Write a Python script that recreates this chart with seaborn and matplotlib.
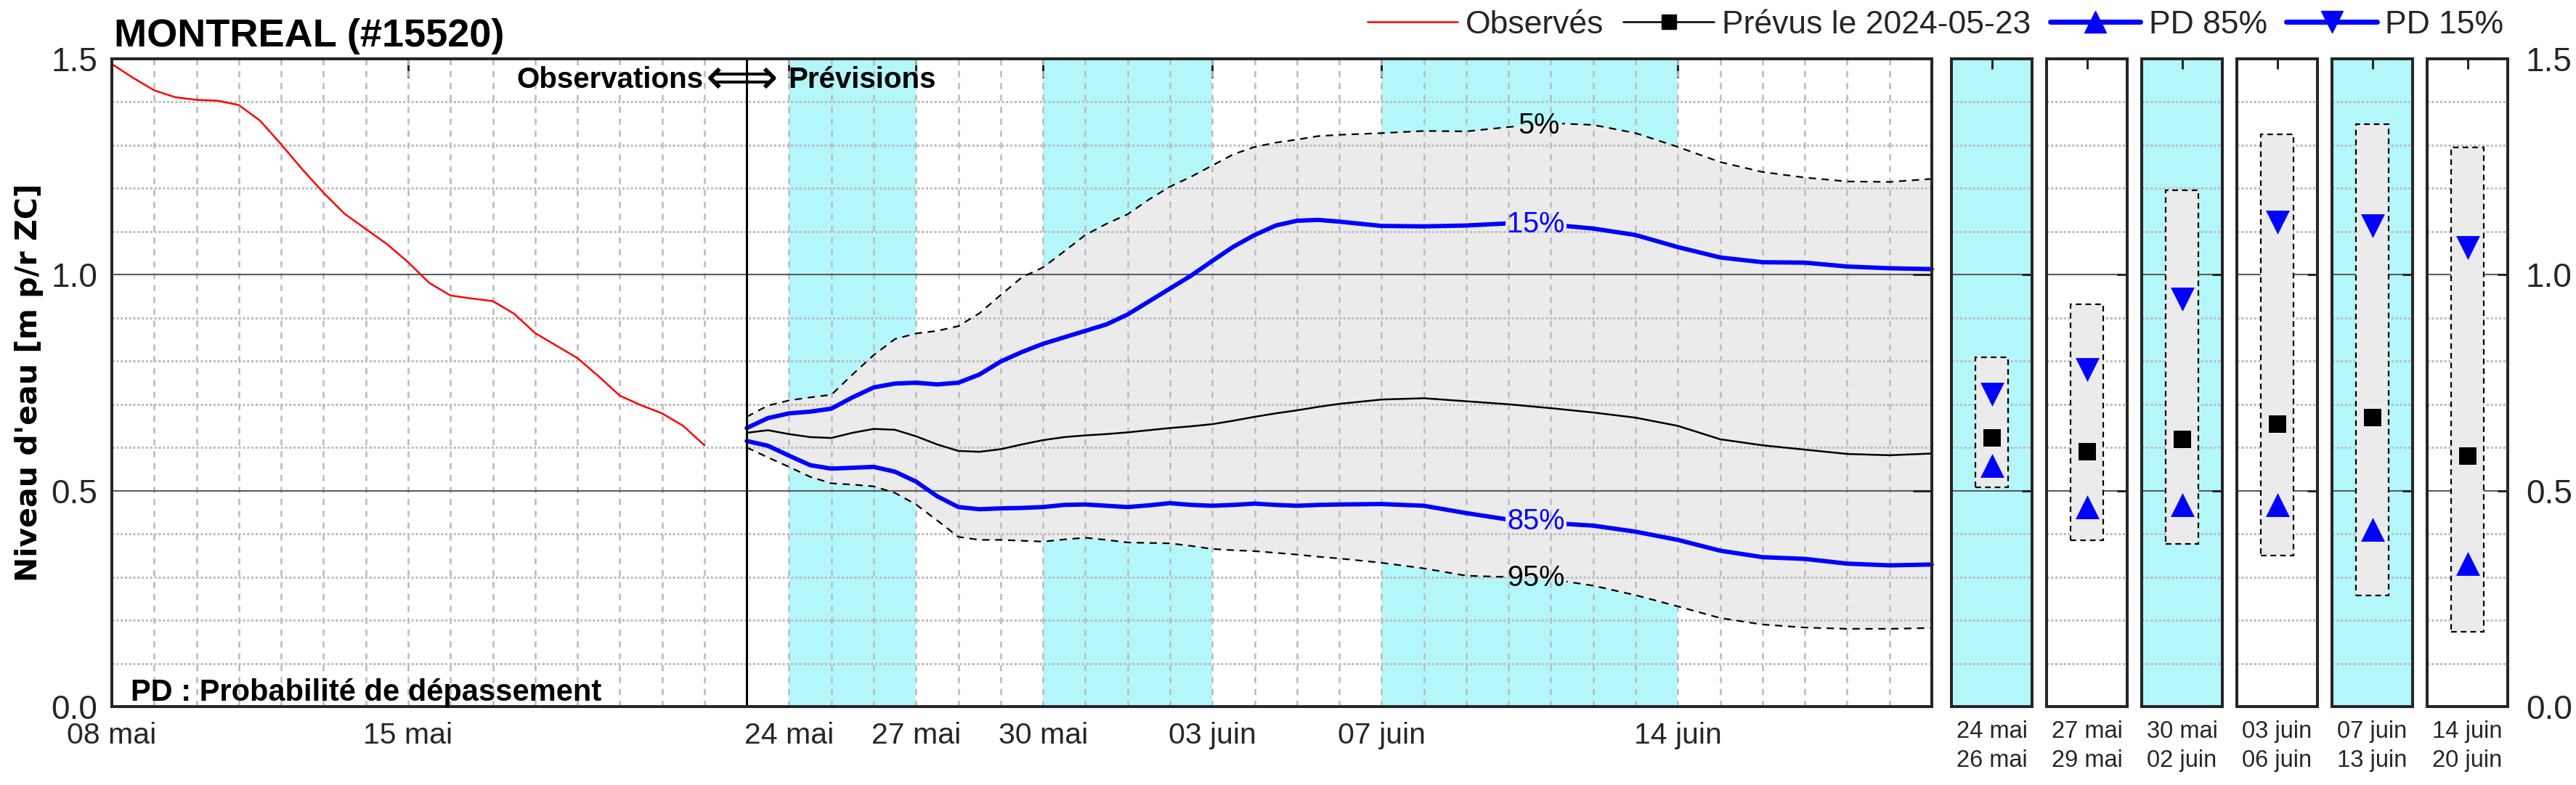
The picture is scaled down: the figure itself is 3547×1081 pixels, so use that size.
import numpy as np
import pandas as pd
import matplotlib
matplotlib.use("Agg")
import matplotlib.pyplot as plt
import matplotlib.dates as mdates
from matplotlib.lines import Line2D
from matplotlib.patches import Rectangle
from matplotlib.ticker import MultipleLocator, FixedLocator
import seaborn as sns

# ------------------------------------------------------------------ data
station_title = "MONTREAL (#15520)"
y_label = "Niveau d'eau [m p/r ZC]"

obs_start = "2024-05-08"          # observed series, one value every 12 h
obs_level = [1.488, 1.456, 1.427, 1.411, 1.405, 1.403, 1.393, 1.357, 1.302,
             1.244, 1.190, 1.141, 1.106, 1.071, 1.029, 0.981, 0.952, 0.945,
             0.939, 0.910, 0.865, 0.836, 0.807, 0.765, 0.720, 0.698, 0.679,
             0.650, 0.605]

forecast_issue = "2024-05-23"
fc_day = [0, 0.5, 1, 1.5, 2, 2.5, 3, 3.5, 4, 4.5, 5, 5.5, 6, 6.5, 7, 7.5, 8,
          8.5, 9, 9.5, 10, 10.5, 11, 11.5, 12, 12.5, 13, 13.5, 14,
          15, 16, 17, 18, 19, 20, 21, 22, 23, 24, 25, 26, 27, 28]
fc_q05 = [0.671, 0.697, 0.709, 0.716, 0.722, 0.769, 0.814, 0.851, 0.864, 0.870,
          0.881, 0.911, 0.953, 0.994, 1.017, 1.054, 1.092, 1.118, 1.140, 1.174,
          1.204, 1.227, 1.253, 1.279, 1.296, 1.306, 1.313, 1.321, 1.324,
          1.328, 1.333, 1.332, 1.342, 1.351, 1.347, 1.328, 1.296, 1.261, 1.238,
          1.225, 1.216, 1.215, 1.222]
fc_q15 = [0.645, 0.668, 0.679, 0.683, 0.690, 0.716, 0.739, 0.748, 0.750, 0.746,
          0.750, 0.769, 0.799, 0.821, 0.840, 0.855, 0.870, 0.885, 0.908, 0.938,
          0.968, 0.998, 1.032, 1.065, 1.092, 1.114, 1.125, 1.127, 1.123,
          1.113, 1.112, 1.114, 1.119, 1.116, 1.107, 1.092, 1.064, 1.040, 1.029,
          1.028, 1.019, 1.015, 1.013]
fc_q50 = [0.634, 0.640, 0.631, 0.624, 0.622, 0.634, 0.643, 0.641, 0.626, 0.607,
          0.592, 0.590, 0.596, 0.607, 0.617, 0.624, 0.628, 0.631, 0.635, 0.640,
          0.645, 0.649, 0.654, 0.662, 0.671, 0.679, 0.686, 0.694, 0.701,
          0.711, 0.714, 0.707, 0.700, 0.691, 0.681, 0.669, 0.650, 0.619, 0.605,
          0.595, 0.585, 0.582, 0.586]
fc_q85 = [0.615, 0.604, 0.581, 0.559, 0.551, 0.553, 0.555, 0.544, 0.521, 0.487,
          0.462, 0.457, 0.459, 0.460, 0.462, 0.467, 0.468, 0.465, 0.462, 0.466,
          0.471, 0.467, 0.465, 0.467, 0.470, 0.467, 0.465, 0.467, 0.468,
          0.469, 0.465, 0.448, 0.433, 0.425, 0.419, 0.405, 0.386, 0.361, 0.346,
          0.342, 0.331, 0.327, 0.329]
fc_q95 = [0.600, 0.577, 0.555, 0.532, 0.517, 0.514, 0.510, 0.495, 0.468, 0.431,
          0.393, 0.386, 0.386, 0.384, 0.382, 0.387, 0.391, 0.386, 0.380, 0.379,
          0.378, 0.372, 0.365, 0.362, 0.360, 0.356, 0.352, 0.347, 0.343,
          0.333, 0.320, 0.303, 0.300, 0.295, 0.280, 0.258, 0.232, 0.205, 0.190,
          0.183, 0.180, 0.180, 0.182]

# quantile curve labels: text, day after issue, level
curve_label_text = ["5%", "15%", "85%", "95%"]
curve_label_day = [18.72, 18.65, 18.65, 18.65]
curve_label_level = [1.345, 1.117, 0.428, 0.297]

band_start = ["2024-05-24", "2024-05-30", "2024-06-07"]
band_end = ["2024-05-27", "2024-06-03", "2024-06-14"]

x_start, x_end = "2024-05-08", "2024-06-20"
xtick_dates = ["2024-05-08", "2024-05-15", "2024-05-24", "2024-05-27",
               "2024-05-30", "2024-06-03", "2024-06-07", "2024-06-14"]
xtick_labels = ["08 mai", "15 mai", "24 mai", "27 mai", "30 mai", "03 juin",
                "07 juin", "14 juin"]

panel_labels = ["24 mai\n26 mai", "27 mai\n29 mai", "30 mai\n02 juin",
                "03 juin\n06 juin", "07 juin\n13 juin", "14 juin\n20 juin"]
panel_highlight = [True, False, True, False, True, False]
panel_q05 = [0.809, 0.932, 1.196, 1.325, 1.349, 1.295]
panel_q95 = [0.508, 0.385, 0.377, 0.349, 0.258, 0.174]
panel_q15 = [0.723, 0.780, 0.943, 1.121, 1.114, 1.062]
panel_q50 = [0.622, 0.591, 0.619, 0.654, 0.670, 0.580]
panel_q85 = [0.558, 0.463, 0.467, 0.468, 0.410, 0.331]

ytick_vals = [0.0, 0.5, 1.0, 1.5]
ytick_labels = ["0.0", "0.5", "1.0", "1.5"]

# ------------------------------------------------------------------ style
sns.set_theme(style="white")
plt.rcParams["font.family"] = ["Liberation Sans", "DejaVu Sans"]
plt.rcParams["axes.unicode_minus"] = False

CYAN = "#b4f7fa"
FILL = "#ebebeb"
SPINE = "#262626"
GRID = "#bdbdbd"
BLUE = "#0000ff"

W, H = 3547, 1081
fig = plt.figure(figsize=(W / 100, H / 100), dpi=100)
fig.patch.set_facecolor("white")

AX_TOP, AX_BOT = 81, 973


def style_axes(a):
    a.set_facecolor("white")
    for s in a.spines.values():
        s.set_color(SPINE)
        s.set_linewidth(2.9)
        s.set_visible(True)
        s.set_zorder(4)
    a.set_ylim(0, 1.5)
    a.yaxis.set_major_locator(FixedLocator(ytick_vals))
    a.yaxis.set_minor_locator(MultipleLocator(0.1))
    a.set_axisbelow("line")
    a.grid(which="minor", axis="y", color=GRID, lw=2.2, ls=(0, (1.0, 0.9)))
    a.grid(which="major", axis="y", color="#5c5c5c", lw=1.5, ls="-")


# ------------------------------------------------------------------ main axes
ax = fig.add_axes([154 / W, 1 - AX_BOT / H, (2660 - 154) / W, (AX_BOT - AX_TOP) / H])
style_axes(ax)

issue = pd.Timestamp(forecast_issue)
obs_x = pd.date_range(obs_start, periods=len(obs_level), freq="12h")
fc_x = issue + pd.to_timedelta(np.array(fc_day), unit="D")

for b0, b1 in zip(band_start, band_end):
    ax.axvspan(pd.Timestamp(b0), pd.Timestamp(b1), color=CYAN, lw=0, zorder=0.5)

ax.fill_between(fc_x, fc_q95, fc_q05, color=FILL, lw=0, zorder=1)

# observed
sns.lineplot(x=obs_x, y=obs_level, ax=ax, color="#ff0000", lw=1.8,
             estimator=None, sort=False, zorder=3)
# median forecast
sns.lineplot(x=fc_x, y=fc_q50, ax=ax, color="black", lw=1.8,
             estimator=None, sort=False, zorder=3)

x0num = mdates.date2num(pd.Timestamp(x_start))
x1num = mdates.date2num(pd.Timestamp(x_end))
series = [fc_q05, fc_q15, fc_q85, fc_q95]
styles = [dict(color="black", lw=1.6, ls=(0, (4.5, 3.5))),
          dict(color=BLUE, lw=4.3, ls="-"),
          dict(color=BLUE, lw=4.3, ls="-"),
          dict(color="black", lw=1.6, ls=(0, (4.5, 3.5)))]
half_gap = [0.55, 0.72, 0.72, 0.72]
text_colors = ["black", BLUE, BLUE, "black"]
for vals, st, txt, lday, lvl, hg, tc in zip(series, styles, curve_label_text,
                                             curve_label_day, curve_label_level,
                                             half_gap, text_colors):
    cnum = mdates.date2num(issue + pd.Timedelta(days=lday))
    for (ca, cb) in [(x0num - 5, cnum - hg), (cnum + hg, x1num + 5)]:
        sns.lineplot(x=fc_x, y=vals, ax=ax, color=st["color"], lw=st["lw"],
                     linestyle=st["ls"], estimator=None, sort=False, zorder=3)
        ln = ax.lines[-1]
        ln.set_clip_path(Rectangle((ca, -10), cb - ca, 20, transform=ax.transData))
    ax.text(issue + pd.Timedelta(days=lday), lvl, txt, color=tc, fontsize=28.5,
            ha="center", va="center", zorder=5)

ax.axvline(issue, color="black", lw=2.2, zorder=3.5)

ax.set_xlim(pd.Timestamp(x_start), pd.Timestamp(x_end))
ax.xaxis.set_major_locator(FixedLocator(mdates.date2num(pd.to_datetime(xtick_dates))))
ax.set_xticklabels(xtick_labels)
ax.xaxis.set_minor_locator(mdates.DayLocator())
ax.xaxis.remove_overlapping_locs = False
ax.grid(which="minor", axis="x", color=GRID, lw=1.9, ls=(0, (3.2, 3.0)))
ax.set_yticklabels(ytick_labels)

ax.tick_params(which="major", direction="in", length=19, width=2.2, color=SPINE,
               top=True, right=True, labelsize=29.5, labelcolor=SPINE)
ax.tick_params(axis="x", which="major", pad=15)
ax.tick_params(axis="y", which="major", pad=14, labelsize=33)
ax.tick_params(which="minor", length=0)
ax.set_xlabel("")
ax.set_ylabel(y_label, fontsize=29.5, fontweight="bold", family="DejaVu Sans",
              color="black")
ax.yaxis.set_label_coords(-0.0377, 0.5)

# annotations
ax.text(issue - pd.Timedelta(days=1.02), 1.432, "Observations", fontsize=29,
        fontweight="bold", ha="right", va="baseline", color="black", zorder=5)
ax.text(issue - pd.Timedelta(days=0.12), 1.452, "\u27fa", fontsize=50,
        ha="center", va="center", color="black", zorder=5,
        family=["DejaVu Sans", "Liberation Sans"], fontweight="normal")
ax.text(issue + pd.Timedelta(days=0.98), 1.432, "Prévisions", fontsize=29,
        fontweight="bold", ha="left", va="baseline", color="black", zorder=5)
ax.text(pd.Timestamp(x_start) + pd.Timedelta(days=0.45), 0.014,
        "PD : Probabilité de dépassement", fontsize=30, fontweight="bold",
        ha="left", va="baseline", color="black", zorder=5)

# ------------------------------------------------------------------ period panels
panel_left = [2687, 2818, 2949, 3080, 3211, 3342]
panel_w = 111
for i, lbl in enumerate(panel_labels):
    pax = fig.add_axes([panel_left[i] / W, 1 - AX_BOT / H, panel_w / W,
                        (AX_BOT - AX_TOP) / H])
    style_axes(pax)
    if panel_highlight[i]:
        pax.set_facecolor(CYAN)
    pax.set_xlim(0, 1)
    pax.bar([0.5], [panel_q05[i] - panel_q95[i]], bottom=[panel_q95[i]], width=0.4,
            color=FILL, edgecolor="black", linewidth=1.6, linestyle=(0, (3.5, 2.5)),
            zorder=1.6)
    sns.scatterplot(x=[0.5], y=[panel_q15[i]], ax=pax, marker="v", s=560,
                    color=BLUE, linewidth=0, zorder=4)
    sns.scatterplot(x=[0.5], y=[panel_q50[i]], ax=pax, marker="s", s=300,
                    color="black", linewidth=0, zorder=4)
    sns.scatterplot(x=[0.5], y=[panel_q85[i]], ax=pax, marker="^", s=560,
                    color=BLUE, linewidth=0, zorder=4)
    pax.set_xticks([0.5])
    pax.set_xticklabels([lbl], linespacing=1.35)
    pax.set_yticklabels(ytick_labels)
    pax.tick_params(which="major", direction="in", length=10, width=2.2,
                    color=SPINE, top=True, right=True, labelsize=23.5,
                    labelcolor=SPINE)
    pax.tick_params(axis="x", pad=14)
    pax.tick_params(which="minor", length=0)
    pax.set_xlabel("")
    pax.set_ylabel("")
    if i == len(panel_labels) - 1:
        pax.tick_params(axis="y", labelleft=False, labelright=True, labelsize=33,
                        pad=18)
    else:
        pax.tick_params(axis="y", labelleft=False, labelright=False)

# ------------------------------------------------------------------ title & legend
fig.text(157 / W, 1 - 64 / H, station_title, fontsize=39, fontweight="bold",
         ha="left", va="baseline", color="black")

handles = [Line2D([], [], color="#ff0000", lw=1.8),
           Line2D([], [], color="black", lw=1.8, marker="s", markersize=15),
           Line2D([], [], color=BLUE, lw=5, marker="^", markersize=22),
           Line2D([], [], color=BLUE, lw=5, marker="v", markersize=22)]
labels = ["Observés", "Prévus le 2024-05-23", "PD 85%", "PD 15%"]
fig.legend(handles, labels, loc="center right", bbox_to_anchor=(3447 / W, 1 - 34 / H),
           ncol=4, frameon=False, fontsize=32, handlelength=2.8, handletextpad=0.25,
           columnspacing=0.6, borderaxespad=0, borderpad=0)

fig.savefig("out.png", dpi=100, facecolor="white")
